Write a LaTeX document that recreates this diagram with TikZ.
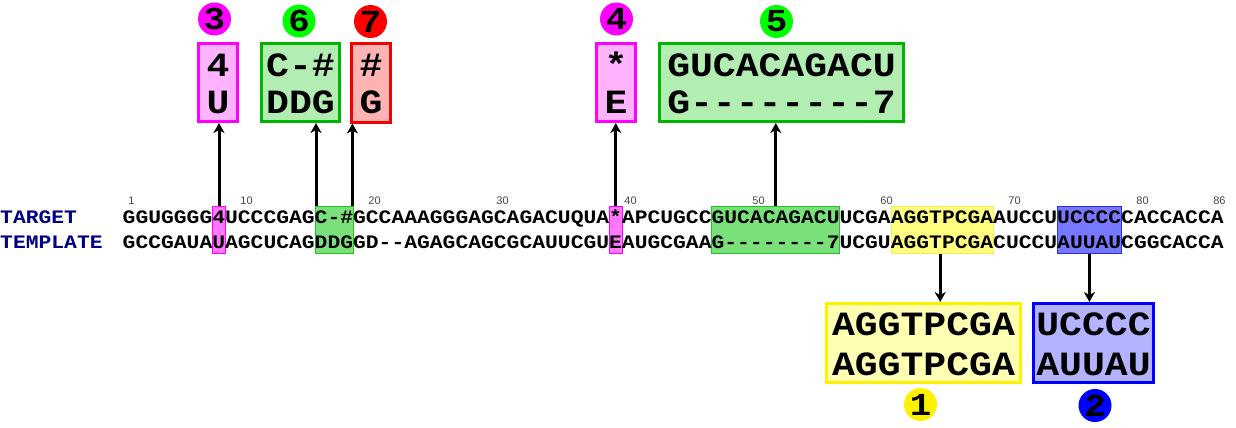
\documentclass[tikz,border=0pt]{standalone}
\usepackage{fontspec}
\setmonofont{Liberation Mono}[FakeStretch=1.12]
\newfontfamily\tickfam{Liberation Sans}
\usetikzlibrary{arrows.meta}
\definecolor{navy}{RGB}{0,0,128}
\definecolor{pinkhl}{RGB}{255,120,255}
\definecolor{pinkbd}{RGB}{255,0,255}
\definecolor{greenhl}{RGB}{122,224,122}
\definecolor{greenhlbd}{RGB}{40,190,40}
\definecolor{yellowhl}{RGB}{255,255,128}
\definecolor{yellowhlbd}{RGB}{240,240,80}
\definecolor{bluehl}{RGB}{120,120,255}
\definecolor{bluehlbd}{RGB}{40,40,255}
\definecolor{pinkbox}{RGB}{255,179,255}
\definecolor{greenbox}{RGB}{178,238,178}
\definecolor{greenbd}{RGB}{0,180,0}
\definecolor{redbox}{RGB}{255,179,179}
\definecolor{redbd}{RGB}{240,0,0}
\definecolor{yellowbox}{RGB}{255,255,179}
\definecolor{bluebox}{RGB}{179,179,255}
\definecolor{brightgreen}{RGB}{0,255,0}
\definecolor{tickgray}{RGB}{70,70,70}
\newcommand\seqf{\ttfamily\bfseries\fontsize{19.05}{19.05}\selectfont}
\newcommand\boxf{\ttfamily\bfseries\fontsize{34}{34}\selectfont}
\newcommand\circf{\ttfamily\bfseries\fontsize{32}{32}\selectfont}
\begin{document}
\begin{tikzpicture}[x=1pt,y=-1pt,
  hl/.style={draw, line width=1pt, inner sep=0pt, anchor=north west, minimum height=47pt},
  seqtext/.style={font=\seqf, inner sep=0pt, anchor=base west},
  rowlab/.style={font=\seqf, text=navy, inner sep=0pt, anchor=base west},
  ticklab/.style={font=\tickfam\fontsize{11}{11}\selectfont, text=tickgray, inner sep=0pt, anchor=base},
  bigbox/.style={draw, line width=3pt, inner sep=0pt, minimum height=78pt},
  boxtext/.style={font=\boxf, inner sep=0pt, anchor=base},
  numcirc/.style={circle, inner sep=0pt, minimum size=33pt, font=\circf},
  arr/.style={line width=3pt, -{Stealth[length=10pt,width=11pt,inset=3pt]}}
]
\useasboundingbox (0,0) rectangle (1236,428);

% highlight boxes in the alignment
\node[hl, fill=pinkhl, draw=pinkbd, minimum width=12.8pt] (h8) at ({122.5+12.8*7},206) {};
\node[hl, fill=greenhl, draw=greenhlbd, minimum width=38.4pt] (h16) at ({122.5+12.8*15},206) {};
\node[hl, fill=pinkhl, draw=pinkbd, minimum width=12.8pt] (h39) at ({122.5+12.8*38},206) {};
\node[hl, fill=greenhl, draw=greenhlbd, minimum width=128pt] (h47) at ({122.5+12.8*46},206) {};
\node[hl, fill=yellowhl, draw=yellowhlbd, minimum width=102.4pt] (h61) at ({122.5+12.8*60},206) {};
\node[hl, fill=bluehl, draw=bluehlbd, minimum width=64pt] (h74) at ({122.5+12.8*73},206) {};

% row labels and sequences
\node[rowlab] (ltarget) at (0,223.5) {TARGET};
\node[rowlab] (ltemplate) at (0,248) {TEMPLATE};
\node[seqtext] (target) at (122.5,223.5) {GGUGGGG4UCCCGAGC-\#GCCAAAGGGAGCAGACUQUA*APCUGCCGUCACAGACUUCGAAGGTPCGAAUCCUUCCCCCACCACCA};
\node[seqtext] (template) at (122.5,248) {GCCGAUAUAGCUCAGDDGGD--AGAGCAGCGCAUUCGUEAUGCGAAG--------7UCGUAGGTPCGACUCCUAUUAUCGGCACCA};

% position ticks
\foreach \n in {1,10,20,30,40,50,60,70,80,86}
  \node[ticklab] (t\n) at ({122.5+12.8*(\n-0.5)+2.5},204) {\n};

% top boxes
\node[bigbox, fill=pinkbox, draw=pinkbd, minimum width=39pt] (b3) at (218,82.5) {};
\node[bigbox, fill=greenbox, draw=greenbd, minimum width=78pt] (b6) at (300.5,82.5) {};
\node[bigbox, fill=redbox, draw=redbd, minimum width=39pt] (b7) at (371,83) {};
\node[bigbox, fill=pinkbox, draw=pinkbd, minimum width=39pt] (b4) at (616,82.5) {};
\node[bigbox, fill=greenbox, draw=greenbd, minimum width=244pt] (b5) at (781.5,82.5) {};
% bottom boxes
\node[bigbox, fill=yellowbox, draw=yellow, minimum width=194pt, minimum height=79pt] (b1) at (923.5,343) {};
\node[bigbox, fill=bluebox, draw=blue, minimum width=120pt, minimum height=79pt] (b2) at (1093.5,343) {};

\node[boxtext] (b3a) at (218,77) {4};
\node[boxtext] (b3b) at (218,113.5) {U};
\node[boxtext] (b6a) at (300.5,77) {C-\#};
\node[boxtext] (b6b) at (300.5,113.5) {DDG};
\node[boxtext] (b7a) at (371,77) {\#};
\node[boxtext] (b7b) at (371,113.5) {G};
\node[boxtext] (b4a) at (616,77) {*};
\node[boxtext] (b4b) at (616,113.5) {E};
\node[boxtext] (b5a) at (781.5,77) {GUCACAGACU};
\node[boxtext] (b5b) at (781.5,113.5) {G--------7};
\node[boxtext] (b1a) at (923.5,335) {AGGTPCGA};
\node[boxtext] (b1b) at (923.5,375) {AGGTPCGA};
\node[boxtext] (b2a) at (1093.5,335) {UCCCC};
\node[boxtext] (b2b) at (1093.5,375) {AUUAU};

% numbered circles
\node[numcirc, fill=pinkbd] (c3) at (214.5,19) {3};
\node[numcirc, fill=brightgreen] (c6) at (299,21) {6};
\node[numcirc, fill=red] (c7) at (370.5,21.5) {7};
\node[numcirc, fill=pinkbd] (c4) at (616.5,19) {4};
\node[numcirc, fill=brightgreen] (c5) at (776.5,21.5) {5};
\node[numcirc, fill=yellow] (c1) at (920.5,404.5) {1};
\node[numcirc, fill=blue] (c2) at (1095,405.5) {2};

% connectors
\draw[arr] (h8.north) -- (h8.north |- b3.south);
\draw[arr] ([xshift=1.5pt]h16.north west) -- ([xshift=1.5pt]h16.north west |- b6.south);
\draw[arr] ([xshift=-1.5pt]h16.north east) -- ([xshift=-1.5pt]h16.north east |- b7.south);
\draw[arr] (h39.north) -- (h39.north |- b4.south);
\draw[arr] (h47.north) -- (h47.north |- b5.south);
\draw[arr] ([xshift=-2pt]h61.south) -- ([xshift=-2pt]h61.south |- b1.north);
\draw[arr] (h74.south) -- (h74.south |- b2.north);
\end{tikzpicture}
\end{document}
